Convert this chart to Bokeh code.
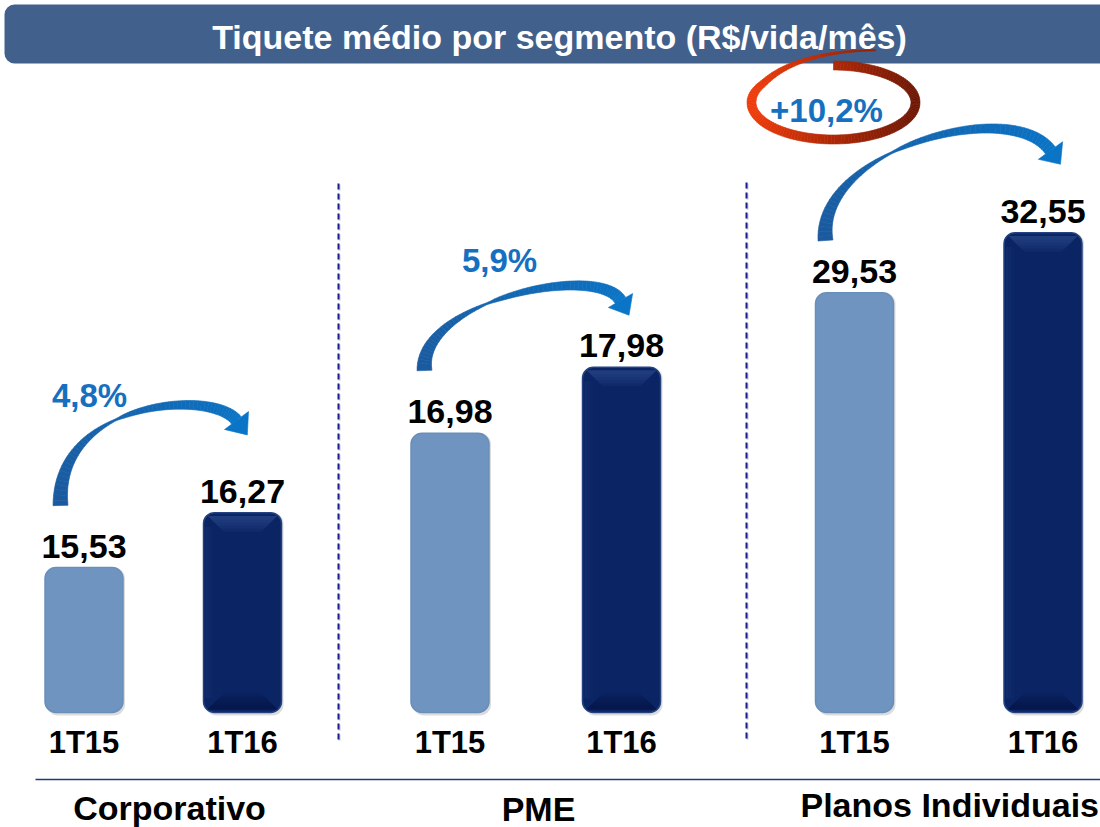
import numpy as np
from bokeh.plotting import figure
from bokeh.models import Range1d
from bokeh.embed import file_html
from bokeh.resources import INLINE
from bokeh.core.properties import value

# ---------------- data ----------------
title = "Tiquete médio por segmento (R$/vida/mês)"
segments = ["Corporativo", "PME", "Planos Individuais"]
periods = ["1T15", "1T16"]
ticket_1t15 = [15.53, 16.98, 29.53]
ticket_1t16 = [16.27, 17.98, 32.55]
growth_labels = ["4,8%", "5,9%", "+10,2%"]

# ---------------- layout / style ----------------
W, H = 1100, 827
OX, OY = 0, 0                     # page offset of the figure
FONT = value("Liberation Sans")
BAR_X = [[83.5, 242.0], [449.5, 621.0], [854.0, 1042.5]]   # bar centres
BAR_W = 78
BASE_Y = 712                      # baseline of the bars (page px)
AXIS_FLOOR = [13.58, 12.75, 8.44] # value at the baseline of each group's own scale
PX_PER_UNIT = [74.3, 66.0, 19.9]  # each group has its own (truncated) scale
LIGHT = "#7094C0"
DARK = "#0B2463"
BLUE_TXT = "#1570C0"

p = figure(width=W, height=H, x_range=Range1d(OX, OX + W), y_range=Range1d(OY + H, OY),
           output_backend="svg", toolbar_location=None, x_axis_location=None,
           y_axis_location=None, min_border=0, outline_line_color=None,
           background_fill_color="white", border_fill_color="white")
p.xgrid.visible = False
p.ygrid.visible = False

extra = {}
for g in range(3):
    k = PX_PER_UNIT[g]
    extra["g%d" % g] = Range1d(start=AXIS_FLOOR[g] - (OY + H - BASE_Y) / k,
                               end=AXIS_FLOOR[g] + (BASE_Y - OY) / k)
p.extra_y_ranges = extra


def fmt(v):
    return ("%.2f" % v).replace(".", ",")


def page_y(g, v):
    return BASE_Y - (v - AXIS_FLOOR[g]) * PX_PER_UNIT[g]


# ---------------- title banner ----------------
p.quad(left=4, right=1110, top=4, bottom=63, fill_color="#41618C", line_color=None,
       border_radius=10)
p.text(x=[559], y=[36], text=[title], text_color="white", text_font=FONT,
       text_font_style="bold", text_font_size="34px", text_align="center",
       text_baseline="middle")

# ---------------- bars ----------------
for g in range(3):
    rn = "g%d" % g
    vals = [ticket_1t15[g], ticket_1t16[g]]
    cols = [LIGHT, DARK]
    lines = ["#6A8EBA", "#24427F"]
    for j in range(2):
        # soft shadow
        p.vbar(x=[BAR_X[g][j] + 2], top=[vals[j]], bottom=AXIS_FLOOR[g] - 3.0 / PX_PER_UNIT[g],
               width=BAR_W, fill_color="#9A9A9A", fill_alpha=0.35, line_color=None,
               border_radius=11, y_range_name=rn)
        p.vbar(x=[BAR_X[g][j]], top=[vals[j]], bottom=AXIS_FLOOR[g], width=BAR_W,
               fill_color=cols[j], line_color=lines[j], line_width=1.5,
               border_radius=11, y_range_name=rn)
        if j == 1:
            # soft bevel shading of the dark bar (stacked translucent layers)
            xl, xr = BAR_X[g][j] - BAR_W / 2, BAR_X[g][j] + BAR_W / 2
            top, bot = page_y(g, vals[j]), BASE_Y
            for i in range(5):
                d = 16 - 3 * i
                p.patch([xl + 4, xr - 4, xr - 4 - d, xl + 4 + d],
                        [top + 3, top + 3, top + 3 + d, top + 3 + d],
                        fill_color="#3A5C9C", fill_alpha=0.12, line_color=None)
                p.patch([xl + 4 + d, xr - 4 - d, xr - 4, xl + 4],
                        [bot - 3 - d, bot - 3 - d, bot - 3, bot - 3],
                        fill_color="#020E35", fill_alpha=0.10, line_color=None)
            for i in range(3):
                p.quad(left=xl + 2, right=xl + 4 + 3 * i, top=top + 14, bottom=bot - 14,
                       fill_color="#2A4888", fill_alpha=0.10, line_color=None)
        p.text(x=[BAR_X[g][j]], y=[vals[j]], text=[fmt(vals[j])], y_range_name=rn,
               y_offset=-10, text_color="black", text_font=FONT, text_font_style="bold",
               text_font_size="34px", text_align="center", text_baseline="bottom")
        p.text(x=[BAR_X[g][j]], y=[742], text=[periods[j]], text_color="black",
               text_font=FONT, text_font_style="bold", text_font_size="31px",
               text_align="center", text_baseline="middle")

# ---------------- separators ----------------
p.segment(x0=[339, 747], y0=[184, 183], x1=[339, 747], y1=[742, 742],
          line_color="#C8C8D8", line_width=2, line_dash="6 4")
p.segment(x0=[338, 746], y0=[183, 182], x1=[338, 746], y1=[741, 741],
          line_color="#1B1F8C", line_width=2, line_dash="6 4")
p.segment(x0=[35], y0=[779], x1=[1110], y1=[779], line_color="#1F3A78", line_width=1.5)

# ---------------- segment names ----------------
p.text(x=[169, 538], y=[807, 808], text=segments[:2], text_color="black", text_font=FONT,
       text_font_style="bold", text_font_size="34px", text_align="center",
       text_baseline="middle")
p.text(x=[800], y=[804], text=segments[2:], text_color="black", text_font=FONT,
       text_font_style="bold", text_font_size="34px", text_align="left",
       text_baseline="middle")


# ---------------- curved arrows ----------------
def hex2rgb(h):
    h = h.lstrip("#")
    return np.array([int(h[i:i + 2], 16) for i in (0, 2, 4)], float)


def mix(c0, c1, t):
    a, b = hex2rgb(c0), hex2rgb(c1)
    c = (1 - t) * a + t * b
    return "#%02x%02x%02x" % tuple(int(round(v)) for v in c)


def ribbon(pts, widths, c0, c1, tcol):
    d = np.gradient(pts, axis=0)
    d /= np.linalg.norm(d, axis=1)[:, None]
    n = np.stack([-d[:, 1], d[:, 0]], axis=1)
    L = pts + n * widths[:, None] / 2
    R = pts - n * widths[:, None] / 2
    xs, ys, cs = [], [], []
    for i in range(len(pts) - 1):
        xs.append([L[i, 0], L[i + 1, 0], R[i + 1, 0], R[i, 0]])
        ys.append([L[i, 1], L[i + 1, 1], R[i + 1, 1], R[i, 1]])
        cs.append(mix(c0, c1, tcol[i]))
    return xs, ys, cs


def cubic(P, t):
    P0, P1, P2, P3 = [np.array(q, float) for q in P]
    t = t[:, None]
    return (1 - t) ** 3 * P0 + 3 * (1 - t) ** 2 * t * P1 + 3 * (1 - t) * t ** 2 * P2 + t ** 3 * P3


# control points (page px) for each arrow: tail -> head
ARROWS = [
    [(60, 505), (55, 400), (212, 388), (236, 420)],
    [(424, 370), (418, 300), (598, 262), (620, 300)],
    [(825, 240), (815, 150), (1010, 95), (1050, 150)],
]
ARROW_HEAD = [(15, 18), (14, 17), (15, 17)]
TXT_POS = [(89, 395), (499, 260), (826, 110)]

for g in range(3):
    t = np.linspace(0, 1, 60)
    pts = cubic(ARROWS[g], t)
    w = np.where(t < 0.42, 15 - 13.5 * (t / 0.42),
                 1.5 + 10.5 * np.sqrt(np.clip((t - 0.42) / 0.58, 0, 1)))
    xs, ys, cs = ribbon(pts, w, "#1B5A9E", "#0A74C6", t)
    p.patches(xs, ys, fill_color=cs, line_color=cs, line_width=0.6)
    # head
    P2, P3 = np.array(ARROWS[g][2], float), np.array(ARROWS[g][3], float)
    u = (P3 - P2) / np.linalg.norm(P3 - P2)
    nrm = np.array([-u[1], u[0]])
    hw, hl = ARROW_HEAD[g]
    a = P3 + nrm * hw
    b = P3 - nrm * hw
    tip = P3 + u * hl
    p.patch([a[0], tip[0], b[0]], [a[1], tip[1], b[1]], fill_color="#0A74C6",
            line_color="#0A74C6", line_width=0.6)
    p.text(x=[TXT_POS[g][0]], y=[TXT_POS[g][1]], text=[growth_labels[g]],
           text_color=BLUE_TXT, text_font=FONT, text_font_style="bold",
           text_font_size="33px", text_align="center", text_baseline="middle")

# ---------------- hand-drawn red ring around the highlight ----------------
cx, cy, rx, ry = 833, 102, 82, 37
phi = np.radians(np.linspace(90, -290, 160))
phid = np.degrees(phi)
sc = 1 + 0.5 * np.clip((-210 - phid) / 80, 0, 1) ** 1.5
ex = cx + rx * sc * np.cos(phi)
ey = cy - ry * sc * np.sin(phi)
s = np.linspace(0, 1, len(phi))
ew = np.where(s < 0.72, 9.0, 9.0 - 8.0 * ((s - 0.72) / 0.28))
tcol = np.clip((ex - 747) / (920 - 747), 0, 1)
xs, ys, cs = ribbon(np.stack([ex, ey], axis=1), ew, "#F23C0A", "#6A1504", tcol)
p.patches(xs, ys, fill_color=cs, line_color=cs, line_width=0.6)

open("out.html", "w").write(file_html(p, INLINE))
